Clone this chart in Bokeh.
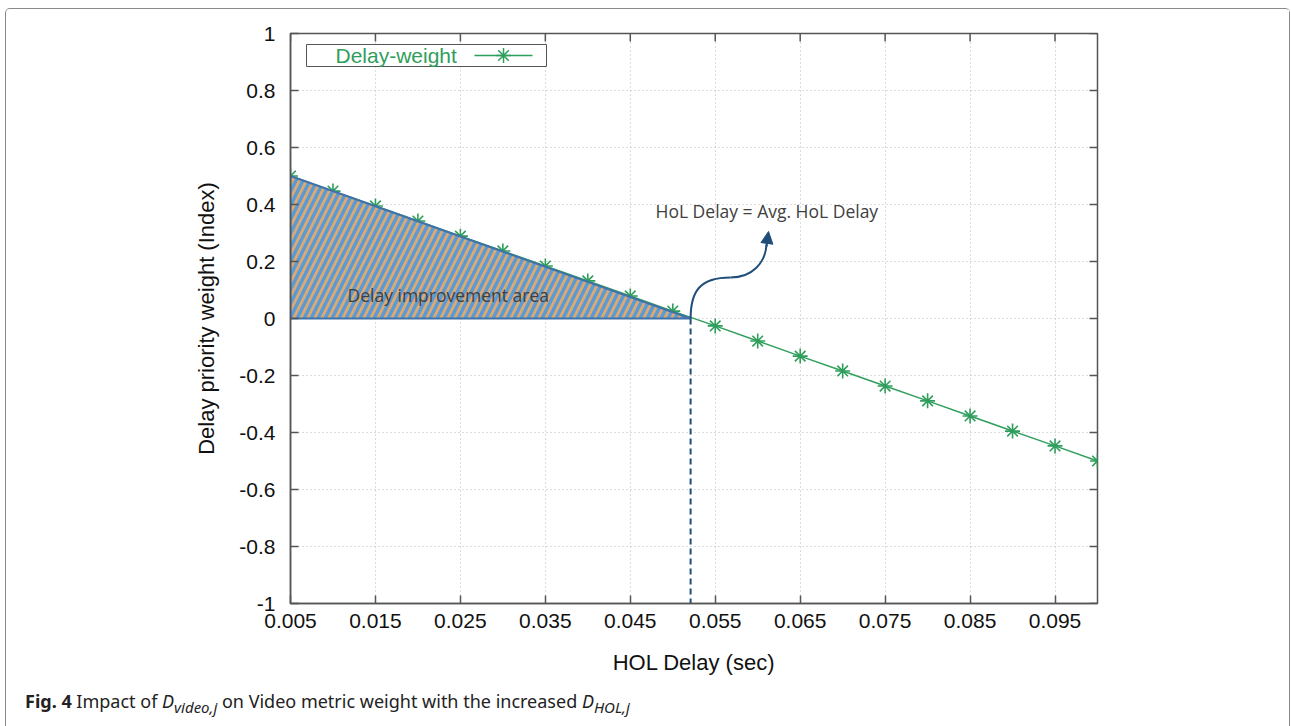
from bokeh.plotting import figure
from bokeh.layouts import column
from bokeh.models import (Label, BoxAnnotation, Arrow, NormalHead, FixedTicker,
                          CustomJSTickFormatter, Range1d, Div)
from bokeh.embed import file_html
from bokeh.resources import INLINE

# ---------------- data ----------------
hol_delay = [0.005, 0.010, 0.015, 0.020, 0.025, 0.030, 0.035, 0.040, 0.045, 0.050,
             0.055, 0.060, 0.065, 0.070, 0.075, 0.080, 0.085, 0.090, 0.095, 0.100]
delay_weight = [0.500, 0.447, 0.395, 0.342, 0.289, 0.237, 0.184, 0.132, 0.079, 0.026,
                -0.026, -0.079, -0.132, -0.184, -0.237, -0.289, -0.342, -0.395, -0.447, -0.500]
avg_hol_delay = 0.0521
x_ticks = [0.005, 0.015, 0.025, 0.035, 0.045, 0.055, 0.065, 0.075, 0.085, 0.095]
y_ticks = [-1, -0.8, -0.6, -0.4, -0.2, 0, 0.2, 0.4, 0.6, 0.8, 1]
series_name = "Delay-weight"

GREEN = "#2f9e5c"
ORANGE = "#dfa86e"
BLUE = "#5b9bd5"
EDGE = "#3f72a8"
DARKBLUE = "#1f4e79"
AXIS = "#555555"

# page geometry (pixels) used only to place annotations
PAGE_L, PAGE_T = 6, 9           # inner top-left of the bordered block
FL, FR, FT, FB = 290, 1097, 33, 603
X0, X1, Y0, Y1 = 0.005, 0.1, -1.0, 1.0
W = 1283
H_MAIN = 671
H_CAP = 45


def px2x(px):
    return X0 + (px - FL) * (X1 - X0) / (FR - FL)


def py2y(py):
    return Y1 - (py - FT) * (Y1 - Y0) / (FB - FT)


p = figure(width=W, height=H_MAIN, x_range=Range1d(X0, X1), y_range=Range1d(Y0, Y1),
           output_backend="svg", toolbar_location=None,
           min_border_left=FL - PAGE_L, min_border_right=W - (FR - PAGE_L),
           min_border_top=FT - PAGE_T, min_border_bottom=H_MAIN - (FB - PAGE_T))
p.outline_line_color = AXIS
p.outline_line_width = 1.5

TICK_FONT = "Liberation Sans"

p.xaxis.ticker = FixedTicker(ticks=x_ticks)
p.yaxis.ticker = FixedTicker(ticks=y_ticks)
p.xaxis.formatter = CustomJSTickFormatter(code="return (Math.round(tick*1000)/1000).toFixed(3);")
p.yaxis.formatter = CustomJSTickFormatter(code="return String(Math.round(tick*10)/10);")
p.xaxis.axis_label = "HOL Delay (sec)"
p.yaxis.axis_label = "Delay priority weight (Index)"
for ax in (p.xaxis, p.yaxis):
    ax.axis_line_color = AXIS
    ax.axis_line_width = 1.5
    ax.major_tick_in = 8
    ax.major_tick_out = 0
    ax.major_tick_line_color = AXIS
    ax.major_tick_line_width = 1.5
    ax.minor_tick_line_color = None
    ax.major_label_text_font = TICK_FONT
    ax.major_label_text_font_size = "21px"
    ax.major_label_text_color = "#111111"
    ax.axis_label_text_font = TICK_FONT
    ax.axis_label_text_font_size = "22px"
    ax.axis_label_text_font_style = "normal"
    ax.axis_label_text_color = "#111111"
p.xaxis.major_label_standoff = 10
p.yaxis.major_label_standoff = 15
p.xaxis.axis_label_standoff = 19
p.yaxis.axis_label_standoff = 17

p.grid.grid_line_color = "#b8b8b8"
p.grid.grid_line_dash = "1 3"
p.grid.grid_line_width = 1

# mirrored inward ticks on the top and right edges
tick_dy = 8 * (Y1 - Y0) / (FB - FT)
tick_dx = 8 * (X1 - X0) / (FR - FL)
p.segment(x0=x_ticks, y0=[Y1] * len(x_ticks), x1=x_ticks, y1=[Y1 - tick_dy] * len(x_ticks),
          line_color=AXIS, line_width=1.5)
p.segment(x0=[X1] * len(y_ticks), y0=y_ticks, x1=[X1 - tick_dx] * len(y_ticks), y1=y_ticks,
          line_color=AXIS, line_width=1.5)

# legend box (label left, sample right) - drawn under the data glyphs
p.add_layout(BoxAnnotation(left=px2x(306), right=px2x(546), top=py2y(44), bottom=py2y(66),
                           fill_color="white", fill_alpha=1, line_color=AXIS, line_width=1,
                           line_alpha=1, level="underlay"))
p.add_layout(Label(x=px2x(335), y=py2y(55), text=series_name, text_font=TICK_FONT,
                   text_font_size="21px", text_color=GREEN, text_baseline="middle"))
p.line([px2x(474), px2x(532)], [py2y(55), py2y(55)], line_color=GREEN, line_width=1.5)
p.scatter([px2x(503)], [py2y(55)], marker="asterisk", size=15, line_color=GREEN, line_width=1.5)

# series
p.line(hol_delay, delay_weight, line_color=GREEN, line_width=1.5)
p.scatter(hol_delay, delay_weight, marker="asterisk", size=15, line_color=GREEN, line_width=1.6)

# delay improvement area (hatched triangle)
p.patch([hol_delay[0], avg_hol_delay, hol_delay[0]], [delay_weight[0], 0, 0],
        fill_color=ORANGE, hatch_pattern="/", hatch_color=BLUE, hatch_scale=14,
        hatch_weight=3.5, line_color=EDGE, line_width=2)

# dashed drop line at average delay
p.segment(x0=[avg_hol_delay], y0=[0], x1=[avg_hol_delay], y1=[Y0],
          line_color=DARKBLUE, line_dash="6 4", line_width=2)

# curved arrow
p.bezier(x0=[avg_hol_delay, px2x(730)], y0=[0, py2y(277)],
         x1=[px2x(730), px2x(766)], y1=[py2y(277), py2y(244)],
         cx0=[avg_hol_delay, px2x(752)], cy0=[py2y(290), py2y(277)],
         cx1=[px2x(700), px2x(765)], cy1=[py2y(277), py2y(262)],
         line_color=DARKBLUE, line_width=2)
p.add_layout(Arrow(end=NormalHead(size=12, fill_color=DARKBLUE, line_color=DARKBLUE),
                   x_start=px2x(766), y_start=py2y(246), x_end=px2x(768), y_end=py2y(231),
                   line_color=DARKBLUE, line_width=2))

# in-plot texts
p.add_layout(Label(x=px2x(347), y=py2y(294), text="Delay improvement area",
                   text_font="Open Sans", text_font_size="17.5px", text_color="#404040",
                   text_baseline="middle"))
p.add_layout(Label(x=px2x(655), y=py2y(210), text="HoL Delay = Avg. HoL Delay",
                   text_font="Open Sans", text_font_size="17.5px", text_color="#404040",
                   text_baseline="middle"))

# caption
caption_html = ('<b>Fig. 4</b> Impact of <i>D</i><sub><i>video,j</i></sub> on Video metric '
                'weight with the increased <i>D</i><sub><i>HOL,j</i></sub>')
cap = Div(text=caption_html, width=W - 30, height=H_CAP,
          styles={"font-family": "'Noto Sans', sans-serif", "font-size": "18px",
                  "color": "#222222", "padding-left": "14px", "padding-top": "5px",
                  "line-height": "22px"})

layout = column(p, cap, spacing=0,
                styles={"border-top": "1px solid #8a8a8a", "border-left": "1px solid #8a8a8a",
                        "border-right": "1px solid #8a8a8a", "border-radius": "5px 5px 0 0",
                        "margin-left": "5px", "margin-top": "8px"})

open("out.html", "w").write(file_html(layout, INLINE))
